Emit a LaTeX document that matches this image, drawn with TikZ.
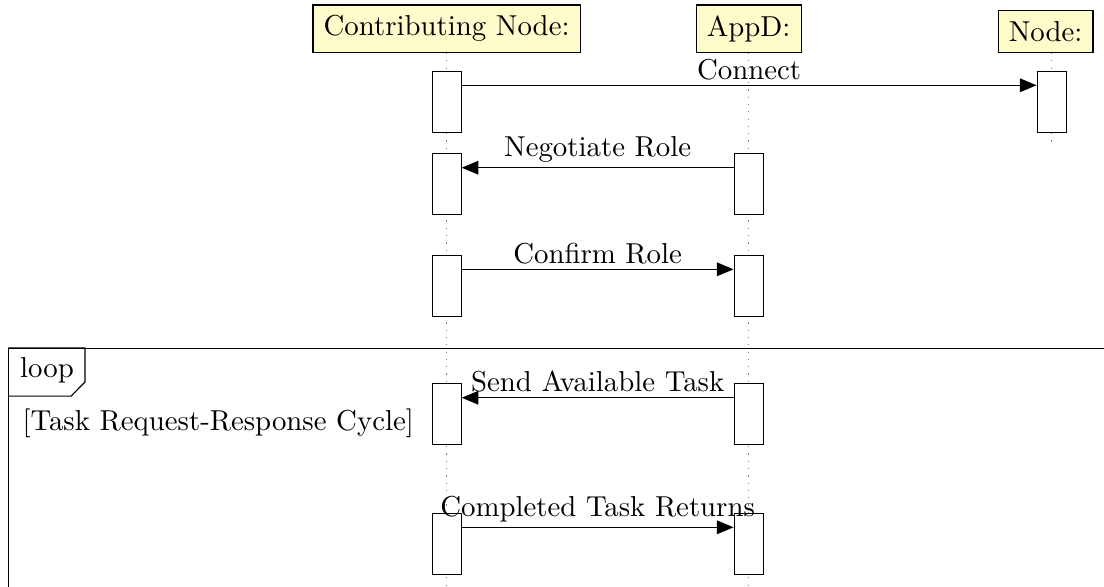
\documentclass[tikz,border=0pt]{standalone}
\usepackage{tikz}
\usetikzlibrary{arrows.meta,positioning}

\tikzset{
  thread/.style={draw, fill=yellow!20, anchor=south, inner sep=3.5pt},
  callbox/.style={draw, fill=white, anchor=north, inner sep=0pt,
    minimum width=0.336cm, minimum height=0.707cm},
  lifeline/.style={gray, dotted},
  call/.style={-{Triangle[length=5.5pt,width=4.5pt]}},
  msg/.style={above, inner sep=1.6pt}
}

\begin{document}
\begin{tikzpicture}[font=\fontsize{9.5}{11.4}\selectfont]
    \path[use as bounding box] (0,0) rectangle (12.79,-6.79);
    \clip (0,0) rectangle (12.79,-6.79);

    % draw loop frame
    \node[draw, anchor=north west, minimum width=13cm, minimum height=3cm] (frame) at (0.093,-4.032) {};
    \node (looptag) at (0.545,-4.293) {loop};
    \draw (frame.north west) -| (0.985,-4.426) -- (0.823,-4.589) -- (0.093,-4.589);
    \node[anchor=west] (guard) at (0.138,-4.90) {[Task Request-Response Cycle]};

    % draw threads
    \node[thread] (contrib) at (5.174,-0.614) {Contributing Node:};
    \node[thread] (appd) at (8.673,-0.614) {AppD:};
    \node[thread, xshift=-2pt] (node) at (12.184,-0.614) {Node:};

    % draw lifelines
    \draw[lifeline] (contrib.south) -- (5.174,-6.9);
    \draw[lifeline] (appd.south) -- (8.673,-6.9);
    \draw[lifeline] (node.south -| 12.184,0) -- (12.184,-1.71);

    % draw activation boxes
    \foreach \t [count=\i] in {0.823,1.773,2.955,4.438,5.944}
    \node[callbox] (cn\i) at (5.174,-\t) {};
    \foreach \t [count=\i from 2] in {1.773,2.955,4.438,5.944}
    \node[callbox] (ad\i) at (8.673,-\t) {};
    \node[callbox] (nd1) at (12.184,-0.823) {};

    % draw messages
    \draw[call] ([yshift=-0.165cm]cn1.north east) -- node[msg] {Connect} ([yshift=-0.165cm]nd1.north west);
    \draw[call] ([yshift=-0.17cm]ad2.north west) -- node[msg] {Negotiate Role} ([yshift=-0.17cm]cn2.north east);
    \draw[call] ([yshift=-0.165cm]cn3.north east) -- node[msg] {Confirm Role} ([yshift=-0.165cm]ad3.north west);
    \draw[call] ([yshift=-0.17cm]ad4.north west) -- node[msg] {Send Available Task} ([yshift=-0.17cm]cn4.north east);
    \draw[call] ([yshift=-0.165cm]cn5.north east) -- node[msg] {Completed Task Returns} ([yshift=-0.165cm]ad5.north west);
\end{tikzpicture}
\end{document}
